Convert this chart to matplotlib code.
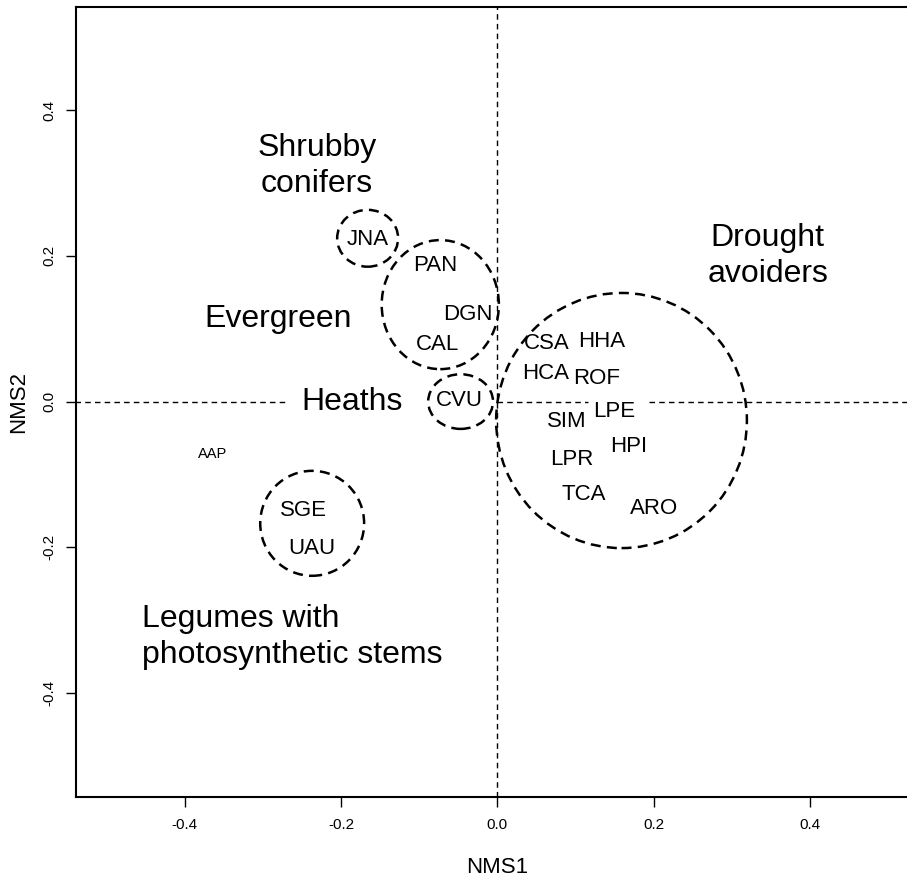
import matplotlib
matplotlib.use("Agg")
import matplotlib.pyplot as plt
from matplotlib.patches import Ellipse

plt.rcParams["font.family"] = ["Liberation Sans", "DejaVu Sans"]

# species scores on the first two NMS axes
species = ["AAP", "SGE", "UAU", "JNA", "PAN", "DGN", "CAL", "CVU",
           "CSA", "HHA", "HCA", "ROF", "LPE", "SIM", "HPI", "LPR", "TCA", "ARO"]
nms1 = [-0.365, -0.248, -0.237, -0.166, -0.080, -0.038, -0.077, -0.049,
        0.063, 0.134, 0.062, 0.127, 0.150, 0.089, 0.168, 0.095, 0.111, 0.201]
nms2 = [-0.072, -0.149, -0.201, 0.222, 0.186, 0.120, 0.078, 0.002,
        0.079, 0.082, 0.039, 0.032, -0.013, -0.027, -0.062, -0.079, -0.127, -0.146]

# functional groups: outline centre and size
grp_x = [-0.166, -0.073, -0.047, -0.237, 0.159]
grp_y = [0.224, 0.133, 0.000, -0.167, -0.026]
grp_w = [0.078, 0.150, 0.083, 0.133, 0.321]
grp_h = [0.078, 0.177, 0.075, 0.144, 0.350]

# group names
grp_names = ["Shrubby\nconifers", "Evergreen", "Heaths", "Drought\navoiders",
             "Legumes with\nphotosynthetic stems"]
name_x = [-0.231, -0.281, -0.186, 0.346, -0.455]
name_y = [0.323, 0.113, -0.001, 0.200, -0.323]
name_ha = ["center", "center", "center", "center", "left"]

# where the y = 0 guide is broken by labels
zero_segments = [(-0.541, -0.270), (0.0, 0.116), (0.194, 0.541)]

lim_x = 0.5393
lim_y = (-0.5425, 0.5412)
ticks = [-0.4, -0.2, 0.0, 0.2, 0.4]

fig = plt.figure(figsize=(9.07, 8.81), dpi=100)
ax = fig.add_axes([0.0838, 0.0953, 0.929, 0.8967])
ax.set_xlim(-lim_x, lim_x)
ax.set_ylim(*lim_y)

ax.axvline(0, color="black", lw=1.0, ls=(0, (4, 3)), zorder=1)
for x0, x1 in zero_segments:
    ax.hlines(0, x0, x1, color="black", lw=1.0, ls=(0, (4, 3)), zorder=1)

for cx, cy, w, h in zip(grp_x, grp_y, grp_w, grp_h):
    ax.add_patch(Ellipse((cx, cy), w, h, fill=False, ec="black", lw=1.8,
                         ls=(0, (4, 2.5)), zorder=2))

for s, x, y in zip(species, nms1, nms2):
    size = 10.5 if s == "AAP" else 16
    ax.text(x, y, s, fontsize=size, ha="center", va="center", zorder=3)

for t, x, y, ha in zip(grp_names, name_x, name_y, name_ha):
    ax.text(x, y, t, fontsize=23, ha=ha, va="center", linespacing=1.27, zorder=3)

ax.set_xticks(ticks)
ax.set_yticks(ticks)
ax.set_xticklabels([f"{t:.1f}" for t in ticks])
ax.set_yticklabels([f"{t:.1f}" for t in ticks], rotation=90, va="center")
ax.tick_params(direction="out", length=7, width=1.0, labelsize=11)
ax.tick_params(axis="x", pad=8)
ax.tick_params(axis="y", pad=7)
for sp in ax.spines.values():
    sp.set_linewidth(1.5)

ax.set_xlabel("NMS1", fontsize=16, labelpad=18)
ax.set_ylabel("NMS2", fontsize=16, labelpad=10)

fig.savefig("out.png", dpi=100)
